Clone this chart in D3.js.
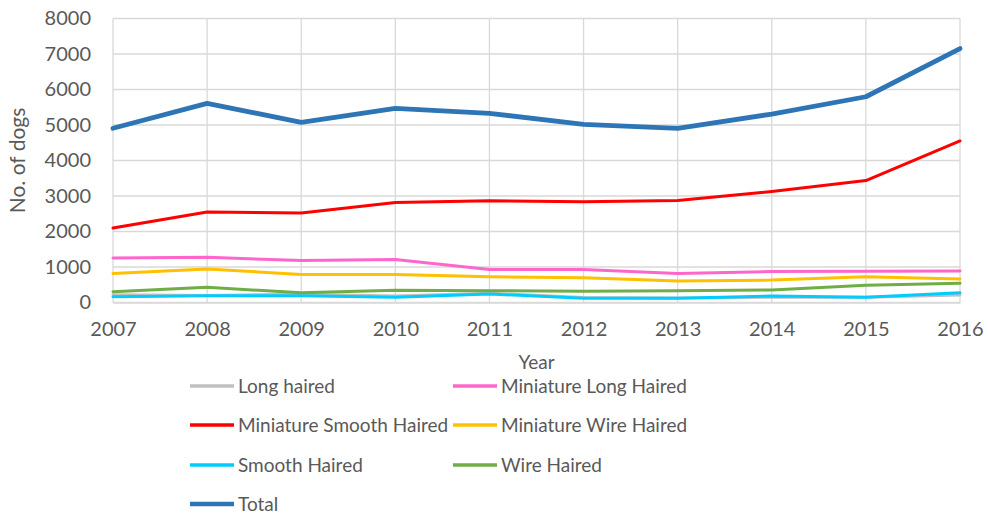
<!DOCTYPE html>
<html>
<head>
<meta charset="utf-8">
<script src="https://cdn.jsdelivr.net/npm/d3@7"></script>
<style>
  html, body { margin: 0; padding: 0; background: #fff; }
  svg { display: block; font-family: Lato, "Open Sans", sans-serif; }
</style>
</head>
<body>
<svg id="chart" width="988" height="514"></svg>
<script>
// Registered dogs per year, by coat variety
const years = [2007, 2008, 2009, 2010, 2011, 2012, 2013, 2014, 2015, 2016];
const yTicks = [0, 1000, 2000, 3000, 4000, 5000, 6000, 7000, 8000];

const longHaired         = [220, 200, 230, 180, 260, 140, 130, 150, 150, 210];
const miniLongHaired     = [1255, 1273, 1180, 1208, 927, 927, 815, 871, 880, 890];
const miniSmoothHaired   = [2098, 2547, 2520, 2818, 2865, 2837, 2874, 3127, 3436, 4551];
const miniWireHaired     = [820, 941, 792, 792, 725, 697, 604, 632, 725, 660];
const smoothHaired       = [163, 191, 190, 146, 239, 118, 118, 183, 146, 275];
const wireHaired         = [303, 427, 275, 343, 331, 315, 331, 351, 483, 539];
const total              = [4907, 5610, 5075, 5468, 5328, 5020, 4907, 5309, 5796, 7154];

const seriesNames  = ["Long haired", "Miniature Long Haired", "Miniature Smooth Haired",
                      "Miniature Wire Haired", "Smooth Haired", "Wire Haired", "Total"];
const seriesValues = [longHaired, miniLongHaired, miniSmoothHaired,
                      miniWireHaired, smoothHaired, wireHaired, total];
const seriesColors = ["#c0c0c0", "#ff66cc", "#ff0000", "#ffc000", "#00ccff", "#70ad47", "#2e75b6"];
const seriesWidths = [3, 3, 3, 3, 3, 3, 4.8];

const svg = d3.select("#chart");
const plot = { left: 113, right: 960, top: 18.5, bottom: 302.5 };
const textColor = "#595959";
const gridColor = "#d9d9d9";

const x = d3.scalePoint().domain(years).range([plot.left, plot.right]);
const y = d3.scaleLinear().domain([0, 8000]).range([plot.bottom, plot.top]);

// horizontal gridlines
svg.append("g")
  .selectAll("line")
  .data(yTicks)
  .join("line")
  .attr("x1", plot.left).attr("x2", plot.right)
  .attr("y1", d => y(d)).attr("y2", d => y(d))
  .attr("stroke", gridColor).attr("stroke-width", 1.3);

// vertical gridlines
svg.append("g")
  .selectAll("line")
  .data(years)
  .join("line")
  .attr("x1", d => x(d)).attr("x2", d => x(d))
  .attr("y1", plot.top).attr("y2", plot.bottom)
  .attr("stroke", gridColor).attr("stroke-width", 1.3);

// y axis labels
const yAxis = svg.append("g")
  .attr("transform", `translate(${plot.left},0)`)
  .call(d3.axisLeft(y).tickValues(yTicks).tickSize(0).tickPadding(22).tickFormat(d3.format("d")));
yAxis.select(".domain").remove();
yAxis.selectAll("text")
  .attr("fill", textColor).attr("font-size", 20)
  .attr("font-family", "Lato, 'Open Sans', sans-serif");

// x axis labels
const xAxis = svg.append("g")
  .attr("transform", `translate(0,${plot.bottom})`)
  .call(d3.axisBottom(x).tickSize(0).tickPadding(19).tickFormat(d3.format("d")));
xAxis.select(".domain").attr("stroke", gridColor).attr("stroke-width", 1.3);
xAxis.selectAll("text")
  .attr("fill", textColor).attr("font-size", 20)
  .attr("font-family", "Lato, 'Open Sans', sans-serif");

// axis titles
svg.append("text")
  .attr("x", (plot.left + plot.right) / 2).attr("y", 369)
  .attr("text-anchor", "middle")
  .attr("fill", textColor).attr("font-size", 19)
  .text("Year");

svg.append("text")
  .attr("transform", `translate(25,${(plot.top + plot.bottom) / 2}) rotate(-90)`)
  .attr("text-anchor", "middle")
  .attr("fill", textColor).attr("font-size", 21)
  .text("No. of dogs");

// series lines
const line = d3.line()
  .x((d, i) => x(years[i]))
  .y(d => y(d));

svg.append("g")
  .selectAll("path")
  .data(seriesValues)
  .join("path")
  .attr("d", d => line(d))
  .attr("fill", "none")
  .attr("stroke", (d, i) => seriesColors[i])
  .attr("stroke-width", (d, i) => seriesWidths[i])
  .attr("stroke-linejoin", "round")
  .attr("stroke-linecap", "round");

// legend: two columns
const legendCols = [190, 453];
const legendRows = [386, 425, 465, 504];
const legend = svg.append("g")
  .selectAll("g")
  .data(seriesNames)
  .join("g")
  .attr("transform", (d, i) => `translate(${legendCols[i % 2]},${legendRows[Math.floor(i / 2)]})`);

legend.append("line")
  .attr("x1", 0).attr("x2", 44)
  .attr("y1", 0).attr("y2", 0)
  .attr("stroke", (d, i) => seriesColors[i])
  .attr("stroke-width", (d, i) => seriesWidths[i] === 3 ? 3.5 : 4.5);

legend.append("text")
  .attr("x", 48).attr("y", 0)
  .attr("dy", "0.35em")
  .attr("fill", textColor).attr("font-size", 19)
  .text(d => d);
</script>
</body>
</html>
